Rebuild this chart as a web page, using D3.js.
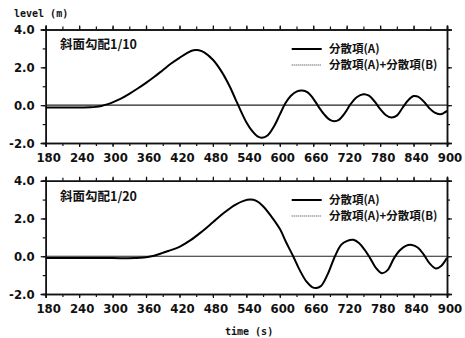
<!DOCTYPE html>
<html><head><meta charset="utf-8">
<script src="https://cdn.jsdelivr.net/npm/d3@7"></script>
<style>
body{margin:0;background:#fff;}
svg{display:block;}
.tk{font-family:"Liberation Sans Narrow","DejaVu Sans Condensed",sans-serif;font-size:13px;font-weight:bold;fill:#111;}
.mono{font-family:"DejaVu Sans Mono","Liberation Mono",monospace;font-size:10px;font-weight:bold;fill:#111;}
.jp{font-family:"Noto Sans CJK JP",sans-serif;fill:#111;}
</style></head><body>
<svg id="c" width="465" height="338"></svg>
<script>
// ---- data ----
const xTicks = [180,240,300,360,420,480,540,600,660,720,780,840,900];
const yTicks = [-2,0,2,4];
const yTickLabels = ["-2.0","0.0","2.0","4.0"];
const panelTitles = ["斜面勾配1/10","斜面勾配1/20"];
const legendLabels = ["分散項(A)","分散項(A)+分散項(B)"];

const timeTop = [180,200,220,240,260,270,280,290,300,315,330,345,360,375,390,405,420,435,445,455,465,480,495,510,520,530,540,550,560,568,578,590,600,610,620,630,640,650,660,670,680,690,698,706,716,727,738,750,760,770,780,790,800,810,820,830,840,848,858,868,878,888,895,900];
const levelTopA = [-0.12,-0.12,-0.12,-0.12,-0.11,-0.09,-0.04,0.04,0.15,0.35,0.6,0.88,1.18,1.5,1.85,2.2,2.5,2.78,2.9,2.9,2.78,2.4,1.8,1.0,0.35,-0.3,-0.9,-1.35,-1.65,-1.72,-1.6,-1.1,-0.5,0.1,0.5,0.72,0.78,0.68,0.35,-0.1,-0.5,-0.78,-0.85,-0.78,-0.45,0.05,0.42,0.58,0.5,0.2,-0.2,-0.52,-0.65,-0.55,-0.15,0.25,0.48,0.45,0.2,-0.15,-0.4,-0.48,-0.4,-0.3];
const levelTopAB = levelTopA;

const timeBot = [180,220,260,300,340,350,360,370,380,390,400,420,440,460,480,500,520,535,547,558,570,585,600,612,624,636,648,658,666,674,686,699,710,720,732,742,752,762,772,783,793,805,815,826,837,848,858,868,880,890,900];
const levelBotA = [-0.1,-0.1,-0.1,-0.1,-0.1,-0.08,-0.05,0.0,0.08,0.18,0.28,0.5,0.85,1.3,1.8,2.3,2.72,2.93,3.0,2.93,2.65,2.1,1.45,0.7,0.0,-0.75,-1.35,-1.63,-1.68,-1.58,-0.95,0.0,0.6,0.8,0.87,0.7,0.35,-0.1,-0.6,-0.9,-0.75,-0.1,0.3,0.55,0.6,0.45,0.1,-0.35,-0.65,-0.5,-0.08];
const levelBotAB = levelBotA;

// ---- drawing ----
const svg = d3.select("#c");
const X0 = 45.7, X1 = 447;
const x = d3.scaleLinear().domain([180,900]).range([X0,X1]);
const panels = [
  {top:29.5, bot:143, t:timeTop, a:levelTopA, ab:levelTopAB, title:panelTitles[0], titleY:49, legY:49},
  {top:180.7, bot:294, t:timeBot, a:levelBotA, ab:levelBotAB, title:panelTitles[1], titleY:201, legY:200}
];

panels.forEach((p,i)=>{
  const y = d3.scaleLinear().domain([-2,4]).range([p.bot,p.top]);
  const g = svg.append("g");
  const minorX = d3.range(180,901,30);
  const minorY = d3.range(-2,4.01,1);
  const axB = d3.axisBottom(x).tickValues(minorX).tickSize(3).tickFormat("");
  const axBm = d3.axisBottom(x).tickValues(xTicks).tickSize(4).tickFormat("");
  const axT = d3.axisTop(x).tickValues(minorX).tickSize(3).tickFormat("");
  const axTm = d3.axisTop(x).tickValues(xTicks).tickSize(4).tickFormat("");
  const axL = d3.axisLeft(y).tickValues(minorY).tickSize(3).tickFormat("");
  const axLm = d3.axisLeft(y).tickValues(yTicks).tickSize(5).tickFormat("");
  const axR = d3.axisRight(y).tickValues(minorY).tickSize(3).tickFormat("");
  const axRm = d3.axisRight(y).tickValues(yTicks).tickSize(5).tickFormat("");
  [[axB,p.bot],[axBm,p.bot],[axT,p.top],[axTm,p.top]].forEach(([a,yy])=>{
    g.append("g").attr("transform",`translate(0,${yy})`).call(a)
     .call(s=>{s.select(".domain").attr("stroke","#111").attr("stroke-width",1.5);s.selectAll("line").attr("stroke","#111").attr("stroke-width",1.2);});
  });
  [[axL,X0],[axLm,X0],[axR,X1],[axRm,X1]].forEach(([a,xx])=>{
    g.append("g").attr("transform",`translate(${xx},0)`).call(a)
     .call(s=>{s.select(".domain").attr("stroke","#111").attr("stroke-width",1.5);s.selectAll("line").attr("stroke","#111").attr("stroke-width",1.2);});
  });
  g.selectAll(".xl").data(xTicks).enter().append("text").attr("class","tk")
    .attr("x",d=>x(d)+3).attr("y",p.bot+19).attr("text-anchor","middle").text(d=>d);
  g.selectAll(".yl").data(yTicks).enter().append("text").attr("class","tk")
    .attr("x",X0-11).attr("y",d=>y(d)+4.5).attr("text-anchor","end").text((d,k)=>yTickLabels[k]);
  g.append("line").attr("x1",X0).attr("x2",X1).attr("y1",y(0)).attr("y2",y(0)).attr("stroke","#222").attr("stroke-width",1.1);
  const pts = (arr)=>p.t.map((t,k)=>[t,arr[k]]);
  const line = d3.line().x(d=>x(d[0])).y(d=>y(d[1])).curve(d3.curveCatmullRom.alpha(0.5));
  g.append("path").attr("d",line(pts(p.ab))).attr("fill","none").attr("stroke","#555").attr("stroke-width",1).attr("stroke-dasharray","1,1.5");
  g.append("path").attr("d",line(pts(p.a))).attr("fill","none").attr("stroke","#000").attr("stroke-width",2);
  g.append("text").attr("class","jp").attr("x",60).attr("y",p.titleY).attr("font-size",12.5).attr("font-weight","bold").text(p.title);
  g.append("line").attr("x1",291.7).attr("x2",321.7).attr("y1",p.legY).attr("y2",p.legY).attr("stroke","#000").attr("stroke-width",2);
  g.append("line").attr("x1",291.7).attr("x2",321.7).attr("y1",p.legY+16).attr("y2",p.legY+16).attr("stroke","#333").attr("stroke-width",1).attr("stroke-dasharray","1,1");
  legendLabels.forEach((l,k)=>{
    g.append("text").attr("class","jp").attr("x",329).attr("y",p.legY+4+16*k).attr("font-size",11.5).attr("font-weight","bold").text(l);
  });
});
svg.append("text").attr("class","mono").attr("x",14).attr("y",17).text("level (m)");
svg.append("text").attr("class","mono").attr("x",225).attr("y",335).text("time (s)");
</script>
</body></html>
